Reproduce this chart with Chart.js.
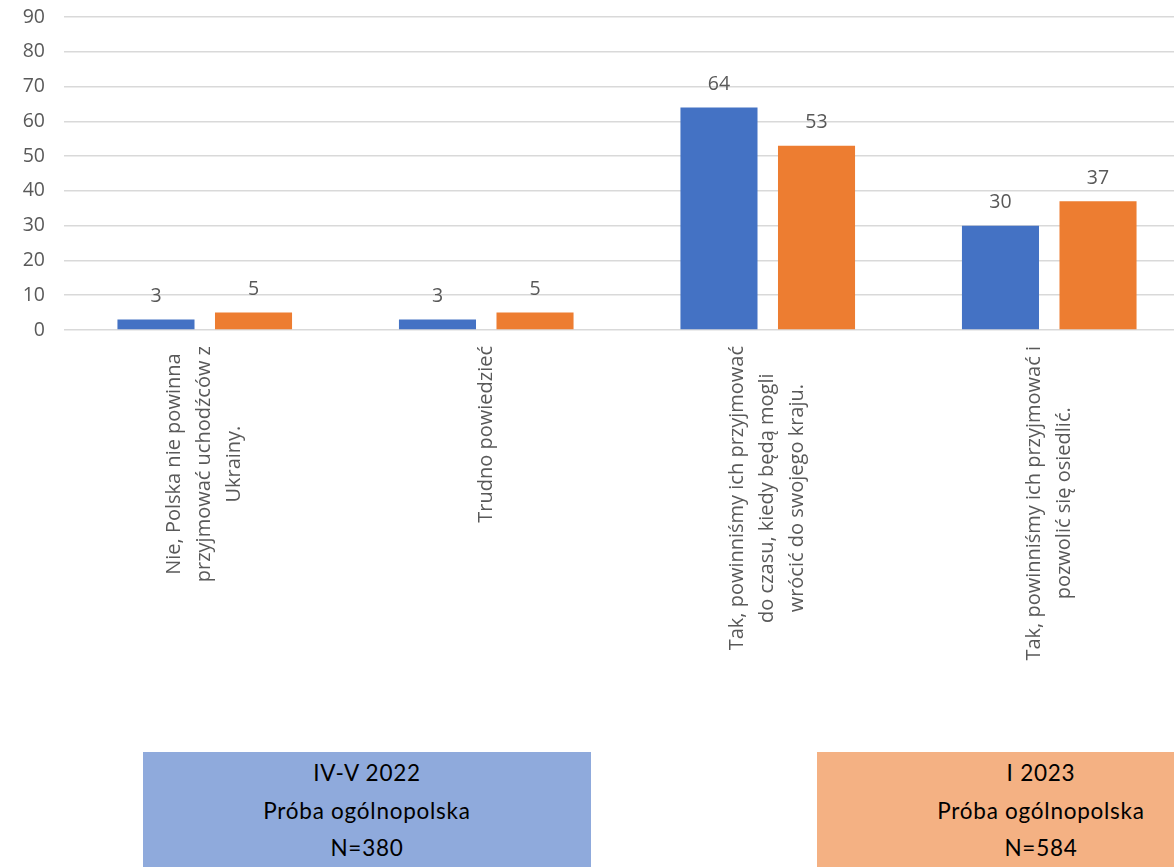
<!DOCTYPE html>
<html>
<head>
<meta charset="utf-8">
<script src="https://cdn.jsdelivr.net/npm/chart.js@4/dist/chart.umd.min.js"></script>
<style>
  html, body { margin: 0; padding: 0; background: #fff; overflow: hidden; width: 1174px; height: 867px; }
  #wrap { position: absolute; left: 0; top: 0; width: 1190px; height: 740px; }
  .box { position: absolute; top: 752px; width: 448px; height: 130px; font-family: Lato, "Liberation Sans", sans-serif; font-size: 22.5px; letter-spacing: 0.75px; line-height: 37.5px; color: #000; text-align: center; box-sizing: border-box; padding-top: 2px; }
  #b1 { left: 143px; background: #8faadc; }
  #b2 { left: 817px; background: #f4b183; }
</style>
</head>
<body>
<div id="wrap"><canvas id="c"></canvas></div>
<div class="box" id="b1">IV-V 2022<br>Próba ogólnopolska<br>N=380</div>
<div class="box" id="b2">I 2023<br>Próba ogólnopolska<br>N=584</div>
<script>
const categories = [
  ["Nie, Polska nie powinna", "przyjmować uchodźców z", "Ukrainy."],
  ["Trudno powiedzieć"],
  ["Tak, powinniśmy ich przyjmować", "do czasu, kiedy będą mogli", "wrócić do swojego kraju."],
  ["Tak, powinniśmy ich przyjmować i", "pozwolić się osiedlić."]
];
const series2022 = [3, 3, 64, 30];
const series2023 = [5, 5, 53, 37];
const seriesNames = ["IV-V 2022", "I 2023"];
const yTicks = [0, 10, 20, 30, 40, 50, 60, 70, 80, 90];

const FONT = '"Open Sans", "Noto Sans", sans-serif';
const TXT = '#595959';

const valueLabels = {
  id: 'valueLabels',
  afterDatasetsDraw(chart) {
    const ctx = chart.ctx;
    ctx.save();
    ctx.font = '19.5px ' + FONT;
    ctx.fillStyle = TXT;
    ctx.textAlign = 'center';
    ctx.textBaseline = 'middle';
    chart.data.datasets.forEach((ds, di) => {
      const meta = chart.getDatasetMeta(di);
      meta.data.forEach((el, i) => {
        ctx.fillText(String(ds.data[i]), el.x, el.y - 23);
      });
    });
    ctx.restore();
  }
};

const catLabels = {
  id: 'catLabels',
  afterDraw(chart) {
    const ctx = chart.ctx;
    const xs = chart.scales.x;
    const y0 = chart.scales.y.getPixelForValue(0);
    ctx.save();
    ctx.font = '20px ' + FONT;
    ctx.fillStyle = TXT;
    ctx.textAlign = 'center';
    ctx.textBaseline = 'middle';
    const lh = 30;
    categories.forEach((lines, i) => {
      const cx = xs.getPixelForValue(i);
      const w = Math.max(...lines.map(l => ctx.measureText(l).width));
      ctx.save();
      ctx.translate(cx, y0 + 16);
      ctx.rotate(-Math.PI / 2);
      lines.forEach((l, j) => {
        ctx.fillText(l, -w / 2, (j - (lines.length - 1) / 2) * lh);
      });
      ctx.restore();
    });
    ctx.restore();
  }
};

function build() {
  const chart = new Chart(document.getElementById('c'), {
    type: 'bar',
    data: {
      labels: categories.map(c => c.join(' ')),
      datasets: [
        { label: seriesNames[0], data: series2022, backgroundColor: '#4472C4' },
        { label: seriesNames[1], data: series2023, backgroundColor: '#ED7D31' }
      ]
    },
    options: {
      responsive: true,
      maintainAspectRatio: false,
      animation: false,
      categoryPercentage: 0.693,
      barPercentage: 0.79,
      layout: { padding: { top: 17, left: 0, right: 0, bottom: 0 } },
      plugins: { legend: { display: false }, tooltip: { enabled: false } },
      scales: {
        x: {
          grid: { display: false, drawTicks: false },
          border: { display: false },
          ticks: { display: false },
          afterFit(scale) { scale.height = 410; }
        },
        y: {
          min: 0, max: 90,
          afterBuildTicks(scale) { scale.ticks = yTicks.map(v => ({ value: v })); },
          grid: { color: '#d9d9d9', lineWidth: 1.5, drawTicks: false },
          border: { display: false },
          ticks: { color: TXT, font: { family: FONT, size: 19.5 }, padding: 19 },
          afterFit(scale) {
            scale.width = 64;
            scale.paddingTop = 0;
            scale.paddingBottom = 0;
          }
        }
      }
    },
    plugins: [valueLabels, catLabels]
  });
  const diff = chart.chartArea.top - 17;
  if (Math.abs(diff) > 0.5) {
    chart.options.layout.padding.top = 17 - diff;
    chart.update();
  }
}

Promise.all([
  document.fonts.load('18px "Open Sans"'),
  document.fonts.load('18px "Noto Sans"')
]).then(build, build);
</script>
</body>
</html>
